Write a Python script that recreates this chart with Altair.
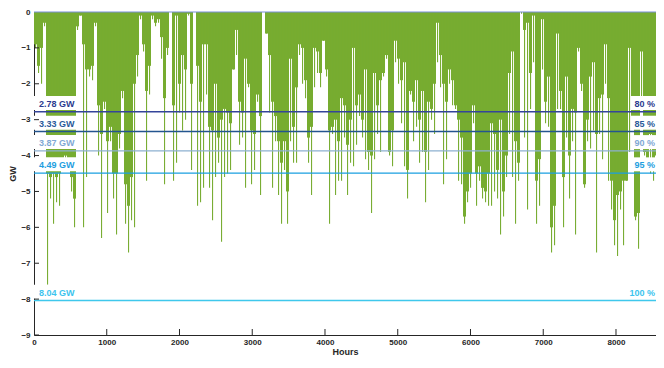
import altair as alt
import pandas as pd

# ---- data (one column ~ 41 h) ----
peak_gw = [
    -1.0,-1.7,-2.0,-0.4,-7.6,-5.2,-5.9,-5.3,-5.4,-4.4,-4.1,-4.2,-5.0,-6.0,-0.5,-0.1,-6.0,-4.6,-1.8,-1.9,-0.4,-4.0,-6.3,-2.7,-5.6,-3.6,-5.2,-6.2,-3.8,-2.4,-5.9,-6.7,-5.8,-6.0,-1.8,-0.2,-1.1,-4.7,-2.3,-0.2,-0.4,-0.3,
    -1.3,-4.8,-1.2,0,-4.7,-4.2,-2.8,-3.3,-3.0,-0.1,-4.4,0,-5.4,-5.3,-4.9,-2.3,-4.9,-5.8,-4.6,-4.2,-6.4,-4.6,-4.5,-4.4,-1.6,-1.2,-3.7,-3.5,-4.9,-2.1,-4.8,-4.4,-2.5,-5.1,0,-0.6,-2.8,-4.9,-3.6,-5.1,-5.9,-4.4,
    -5.9,-3.6,-4.2,-4.2,-1.2,-2.0,-2.4,-4.2,-5.1,-2.1,-1.7,-2.1,-0.8,-1.8,-5.9,-3.4,-5.1,-4.7,-4.7,-3.5,-5.1,-4.2,-4.3,-3.7,-2.9,-3.5,-4.1,-4.4,-5.6,-4.1,-3.4,-3.9,-1.8,-1.3,-4.0,-4.3,-1.4,-2.0,-3.1,-4.3,-5.2,-2.3,
    -3.6,-3.2,-4.2,-3.9,-5.3,-4.4,-3.0,-3.4,-1.4,-2.1,-4.8,-4.1,-2.0,-2.6,-2.7,-4.7,-4.8,-5.9,-5.3,-4.9,-3.1,-5.4,-4.7,-5.2,-5.3,-5.4,-5.4,-5.0,-5.2,-6.2,-5.7,-4.6,-3.4,-4.6,-5.9,-4.7,-0.05,-3.5,-5.5,-2.7,-1.4,-5.9,
    -5.4,-1.6,-3.1,-3.2,-6.7,-6.5,-2.7,-2.7,-6.0,-3.5,-5.2,-3.6,-6.2,-1.1,-2.2,-4.9,-3.6,-3.8,-3.3,-6.7,-3.4,-4.1,-2.0,-4.7,-5.5,-6.5,-6.8,-5.5,-6.5,-4.7,-3.9,-3.1,-5.8,-6.6,-2.5,-4.0,-4.2,-4.5,-4.7,-4.7,-3.7,-5.6,
]
fill_gw = [
    -0.9,-1.5,-1.0,-0.3,-4.5,-4.6,-4.5,-4.6,-4.5,-4.2,-4.0,-4.2,-4.6,-5.2,-0.4,-0.1,-0.9,-1.6,-1.6,-1.5,-0.3,-2.6,-3.4,-2.5,-3.6,-3.2,-4.5,-4.5,-3.4,-2.2,-4.8,-5.4,-4.6,-2.0,-1.2,-0.1,-0.9,-2.2,-1.5,-0.1,-0.3,-0.2,
    -0.7,-2.4,-1.0,0,-2.6,-0.1,-2.0,-1.2,-1.6,-0.05,-2.0,0,-1.5,-2.5,-0.9,-0.9,-3.2,-3.3,-2.0,-3.5,-3.0,-2.7,-2.8,-3.1,-1.6,-0.5,-2.5,-2.8,-1.3,-2.0,-3.3,-3.4,-2.3,-2.9,0,-0.6,-1.2,-2.5,-2.9,-3.6,-4.2,-3.6,
    -5.0,-1.3,-3.2,-2.1,-0.9,-1.0,-1.9,-3.5,-3.2,-1.0,-1.1,-1.7,-0.8,-1.6,-3.3,-3.2,-3.0,-3.6,-2.4,-2.6,-3.7,-3.0,-1.0,-2.6,-2.3,-3.0,-1.6,-3.9,-4.0,-1.7,-2.6,-1.9,-1.7,-1.2,-3.9,-3.3,-0.8,-1.3,-1.9,-1.4,-4.4,-2.2,
    -2.5,-1.9,-3.0,-2.2,-3.9,-2.5,-2.7,-2.0,-0.3,-1.2,-2.0,-2.5,-1.6,-1.9,-2.6,-3.0,-3.5,-5.7,-5.0,-4.5,-2.6,-4.5,-4.3,-4.9,-5.0,-4.5,-3.1,-3.4,-4.4,-3.0,-5.0,-4.0,-1.7,-1.1,-3.6,-4.2,0,-0.5,-0.3,-1.7,-0.1,-4.7,
    -4.1,-0.2,-2.5,-1.8,-6.0,-5.4,-0.6,-2.2,-4.6,-1.8,-4.0,-2.7,-2.8,-1.0,-2.0,-4.8,-3.0,-1.8,-1.4,-3.4,-2.4,-2.3,-0.9,-2.4,-4.7,-5.8,-5.1,-5.0,-4.7,-4.7,-1.0,-2.9,-5.7,-5.6,-1.1,-3.9,-4.2,-3.4,-4.2,-4.0,-2.5,-4.8,
]
data_span = 8660          # hours covered by the columns above
x_max = 8550              # visible part of the hour axis
n_cols = len(peak_gw)
col_hours = data_span / n_cols
hour_start = [i * col_hours for i in range(n_cols)]

thresholds = [-2.78, -3.33, -3.87, -4.49, -8.04]
left_labels = ["2.78 GW", "3.33 GW", "3.87 GW", "4.49 GW", "8.04 GW"]
right_labels = ["80 %", "85 %", "90 %", "95 %", "100 %"]
line_colors = ["#34449a", "#24558f", "#8db0d0", "#1a9fe0", "#3fc8ec"]
text_colors = ["#2b3a8f", "#2a5a9a", "#7fa8d4", "#1e9ee0", "#3cc4ee"]

x_ticks = [0, 1000, 2000, 3000, 4000, 5000, 6000, 7000, 8000]
y_ticks = [-9, -8, -7, -6, -5, -4, -3, -2, -1, 0]

W, H = 622, 323
FONT = "Liberation Sans"
GREEN = "#77AC30"

bars = pd.DataFrame({
    "h0": hour_start,
    "h1": [h + col_hours for h in hour_start],
    "hm0": [h + col_hours * 0.34 for h in hour_start],
    "hm1": [h + col_hours * 0.70 for h in hour_start],
    "peak": peak_gw,
    "fill": fill_gw,
})
thr = pd.DataFrame({
    "v": thresholds,
    "lo": [t + 0.05 for t in thresholds],
    "hi": [t + 0.44 for t in thresholds],
    "ll": left_labels,
    "rl": right_labels,
    "name": left_labels,
})

xs = alt.Scale(domain=[0, x_max], nice=False, zero=False)
ys = alt.Scale(domain=[-9, 0], nice=False)
x_axis = alt.Axis(values=x_ticks, ticks=False, title="Hours", format="d", labelPadding=3,
                  titlePadding=1, grid=False, labelOverlap=False, labelFlush=False)
y_axis = alt.Axis(values=y_ticks, ticks=False, title="GW", format="d", labelPadding=4,
                  titlePadding=3, grid=False, labelOverlap=False, labelFlush=False)
cscale_line = alt.Scale(domain=left_labels, range=line_colors)
cscale_text = alt.Scale(domain=left_labels, range=text_colors)


def X(f):
    return alt.X(f, scale=xs, axis=x_axis)


def Y(f):
    return alt.Y(f, scale=ys, axis=y_axis)


base = alt.Chart(bars)
fill_layer = base.mark_rect(color=GREEN, clip=True).encode(
    x=X("h0:Q"), x2="h1:Q", y=Y("fill:Q"), y2=alt.datum(0),
)
peak_layer = base.mark_rect(color=GREEN, clip=True).encode(
    x=X("hm0:Q"), x2="hm1:Q", y=Y("peak:Q"), y2=alt.datum(0),
)

zero_line = alt.Chart(pd.DataFrame({"v": [0]})).mark_rule(color="#7b90d8", strokeWidth=1.2).encode(
    y=Y("v:Q")
)

tc = alt.Chart(thr)
rules = tc.mark_rule(strokeWidth=1.4).encode(
    y=Y("v:Q"),
    color=alt.Color("name:N", scale=cscale_line, legend=None),
)
left_boxes = tc.mark_rect(color="white").encode(
    x=alt.value(0), x2=alt.value(44), y=Y("lo:Q"), y2="hi:Q",
)
right_boxes = tc.mark_rect(color="white").encode(
    x=alt.value(597), x2=alt.value(W), y=Y("lo:Q"), y2="hi:Q",
)
left_text = tc.mark_text(align="left", baseline="bottom", dy=-3, font=FONT, fontSize=9,
                         fontWeight="bold").encode(
    x=alt.value(5), y=Y("v:Q"), text="ll:N",
    color=alt.Color("name:N", scale=cscale_text, legend=None),
)
right_text = tc.mark_text(align="right", baseline="bottom", dy=-3, font=FONT, fontSize=9,
                          fontWeight="bold").encode(
    x=alt.value(W - 1), y=Y("v:Q"), text="rl:N",
    color=alt.Color("name:N", scale=cscale_text, legend=None),
)

xt = alt.Chart(pd.DataFrame({"t": x_ticks[1:]})).mark_rule(color="#262626").encode(
    x=X("t:Q"), y=alt.value(H), y2=alt.value(H - 6)
)
yt = alt.Chart(pd.DataFrame({"t": y_ticks[:-1]})).mark_rule(color="#262626").encode(
    y=Y("t:Q"), x=alt.value(0), x2=alt.value(5)
)

chart = alt.layer(
    fill_layer, peak_layer, zero_line, left_boxes, right_boxes, rules, left_text, right_text, xt, yt
).resolve_scale(color="independent").properties(
    width=W, height=H,
    autosize=alt.AutoSizeParams(type="none"),
    padding={"left": 26, "top": 4, "right": 0, "bottom": 21},
).configure_view(stroke=None).configure_axis(
    domainColor="#262626", domainWidth=1, labelOverlap=False, labelFlush=False,
    labelFont=FONT, labelFontSize=8, labelFontWeight="bold", labelColor="#262626",
    titleFont=FONT, titleFontSize=9, titleFontWeight="bold", titleColor="#262626",
)

chart.save("out.html", embed_options={"renderer": "svg", "actions": False})
